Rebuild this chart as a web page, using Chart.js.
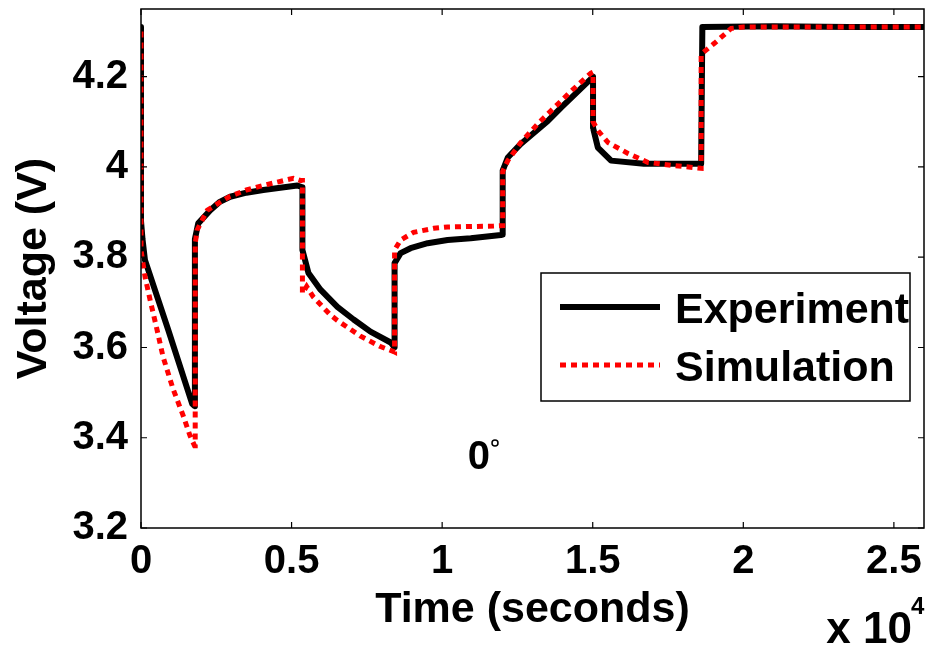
<!DOCTYPE html>
<html lang="en">
<head>
  <meta charset="UTF-8" />
  <title>Voltage vs time, 0°</title>
  <script src="https://cdn.jsdelivr.net/npm/chart.js"></script>
  <style>
    body { margin: 0; background: #fff; }
    canvas { display: block; }
  </style>
</head>
<body>
  <canvas id="voltChart" width="928" height="652"></canvas>
  <script>
    // measured curve (black)
    const expTime = [0, 0, 50, 130, 900, 1700, 1780, 1790, 1900, 2300, 2600, 2960, 3500, 4060, 5190, 5360,
      5360, 5560, 5960, 6520, 7060, 7620, 8290, 8420, 8420, 8620, 8950, 9520, 10180, 10950, 11950, 12010,
      12010, 12180, 12610, 13510, 13940, 14940, 15010, 15010, 15170, 15610, 16700, 18600, 18640, 21000, 23500, 26000];
    const expVolt = [4.31, 3.88, 3.84, 3.794, 3.64, 3.475, 3.47, 3.84, 3.875, 3.904, 3.922, 3.934, 3.943, 3.949, 3.959, 3.955,
      3.816, 3.765, 3.728, 3.69, 3.662, 3.635, 3.611, 3.60, 3.787, 3.809, 3.82, 3.831, 3.838, 3.842, 3.849, 3.85,
      3.992, 4.021, 4.051, 4.102, 4.131, 4.195, 4.20, 4.087, 4.043, 4.014, 4.007, 4.007, 4.31, 4.312, 4.31, 4.31];

    // model curve (red dotted)
    const simTime = [0, 0, 133, 300, 530, 730, 1065, 1400, 1630, 1780, 1800, 1800, 1860, 2200, 2600, 2960, 3500, 4060, 5060, 5290, 5360,
      5360, 5500, 5720, 6290, 6520, 7290, 7950, 8390, 8420, 8420, 8620, 9050, 9720, 10180, 11710, 12010,
      12010, 12180, 12610, 13180, 14280, 14940, 15010, 15010, 15180, 15510, 16170, 16840, 17700, 18600,
      18600, 19040, 19600, 20000, 26000];
    const simVolt = [4.30, 3.816, 3.757, 3.706, 3.64, 3.58, 3.508, 3.449, 3.404, 3.382, 3.382, 3.83, 3.86, 3.904, 3.921, 3.935, 3.949, 3.959, 3.975, 3.97, 3.97,
      3.72, 3.735, 3.712, 3.672, 3.66, 3.625, 3.602, 3.591, 3.59, 3.816, 3.838, 3.855, 3.864, 3.867, 3.869, 3.87,
      3.99, 4.014, 4.054, 4.096, 4.168, 4.208, 4.21, 4.10, 4.08, 4.054, 4.03, 4.01, 4.003, 3.997,
      4.25, 4.274, 4.307, 4.31, 4.31];

    const xTicks = [0, 5000, 10000, 15000, 20000, 25000];
    const yTicks = [3.2, 3.4, 3.6, 3.8, 4, 4.2];
    const seriesNames = ['Experiment', 'Simulation'];
    const note = { x: 10850, y: 3.331, text: '0' };

    const FONT = '"Liberation Sans", Arial, sans-serif';
    Chart.defaults.font.family = FONT;
    Chart.defaults.color = '#000';

    const toPts = (xs, ys) => xs.map((x, i) => ({ x: x, y: ys[i] }));

    // fixed ticks, no edge padding for labels
    const fixTicks = list => s => { s.ticks = list.map(v => ({ value: v })); };
    const noPad = s => { s.paddingLeft = 0; s.paddingRight = 0; s.paddingTop = 0; s.paddingBottom = 0; };

    // box, inward ticks, legend and the "0°" label, MATLAB style
    const matlabBits = {
      id: 'matlabBits',
      afterDatasetsDraw(chart) {
        const { ctx, chartArea: a, scales: { x, y } } = chart;
        ctx.save();
        ctx.strokeStyle = '#000';
        ctx.lineWidth = 1.5;
        ctx.strokeRect(a.left, a.top, a.right - a.left, a.bottom - a.top);
        ctx.lineWidth = 1.2;
        ctx.beginPath();
        xTicks.forEach(v => {
          const px = x.getPixelForValue(v);
          ctx.moveTo(px, a.bottom); ctx.lineTo(px, a.bottom - 6);
          ctx.moveTo(px, a.top); ctx.lineTo(px, a.top + 6);
        });
        yTicks.forEach(v => {
          const py = y.getPixelForValue(v);
          ctx.moveTo(a.left, py); ctx.lineTo(a.left + 6, py);
          ctx.moveTo(a.right, py); ctx.lineTo(a.right - 6, py);
        });
        ctx.stroke();

        // legend
        const bx = 541, by = 273, bw = 369, bh = 128;
        ctx.fillStyle = '#fff';
        ctx.fillRect(bx, by, bw, bh);
        ctx.lineWidth = 1.5;
        ctx.strokeRect(bx, by, bw, bh);
        ctx.font = 'bold 43px ' + FONT;
        ctx.textBaseline = 'alphabetic';
        ctx.textAlign = 'left';
        chart.data.datasets.forEach((ds, i) => {
          const ly = by + 34 + i * 58;
          ctx.save();
          ctx.strokeStyle = ds.borderColor;
          ctx.lineWidth = ds.borderWidth;
          ctx.setLineDash(ds.borderDash || []);
          ctx.beginPath();
          ctx.moveTo(bx + 19, ly); ctx.lineTo(bx + 119, ly);
          ctx.stroke();
          ctx.restore();
          ctx.fillStyle = '#000';
          ctx.fillText(ds.label, bx + 134, ly + 16);
        });

        // annotation
        ctx.font = 'bold 40px ' + FONT;
        const nx = x.getPixelForValue(note.x), ny = y.getPixelForValue(note.y);
        ctx.fillText(note.text, nx, ny);
        const w = ctx.measureText(note.text).width;
        ctx.lineWidth = 1.5;
        ctx.beginPath();
        ctx.arc(nx + w + 5, ny - 26, 3, 0, Math.PI * 2);
        ctx.stroke();

        // x 10^4
        ctx.font = 'bold 44px ' + FONT;
        ctx.textAlign = 'right';
        ctx.fillText('x 10', 912, 643);
        ctx.textAlign = 'left';
        ctx.font = 'bold 24px ' + FONT;
        ctx.fillText('4', 911, 614);
        ctx.restore();
      }
    };

    new Chart(document.getElementById('voltChart').getContext('2d'), {
      type: 'line',
      data: {
        datasets: [
          { label: seriesNames[0], data: toPts(expTime, expVolt), borderColor: '#000', borderWidth: 6,
            pointRadius: 0, tension: 0, order: 1, borderJoinStyle: 'round' },
          { label: seriesNames[1], data: toPts(simTime, simVolt), borderColor: '#ff0000', borderWidth: 5,
            borderDash: [6, 5], pointRadius: 0, tension: 0, order: 0 }
        ]
      },
      options: {
        responsive: false,
        animation: false,
        layout: { padding: { top: 9, right: 4, left: 0, bottom: 0 } },
        plugins: { legend: { display: false }, tooltip: { enabled: false } },
        scales: {
          x: {
            type: 'linear', min: 0, max: 26000,
            afterBuildTicks: fixTicks(xTicks),
            afterFit: s => { s.height = 124; noPad(s); },
            grid: { display: false, drawTicks: false },
            border: { display: false },
            ticks: { autoSkip: false, padding: 10, maxRotation: 0,
              font: { size: 40, weight: 'bold' }, callback: v => String(v / 1e4) },
            title: { display: true, text: 'Time (seconds)', font: { size: 43, weight: 'bold' },
              padding: { top: 0, bottom: 16 } }
          },
          y: {
            type: 'linear', min: 3.2, max: 4.35,
            afterBuildTicks: fixTicks(yTicks),
            afterFit: s => { s.width = 141; noPad(s); },
            grid: { display: false, drawTicks: false },
            border: { display: false },
            ticks: { autoSkip: false, padding: 13,
              font: { size: 40, weight: 'bold' }, callback: v => String(Math.round(v * 10) / 10) },
            title: { display: true, text: 'Voltage (V)', font: { size: 43, weight: 'bold' },
              padding: { top: 8, bottom: 0 } }
          }
        }
      },
      plugins: [matlabBits]
    });
  </script>
</body>
</html>
